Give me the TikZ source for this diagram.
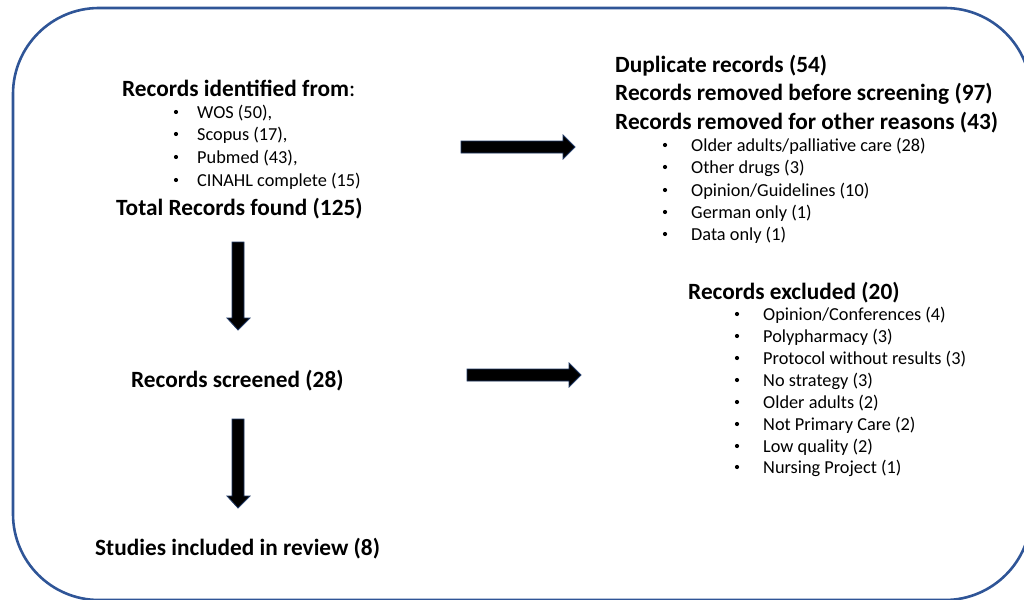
\documentclass[tikz,border=0pt]{standalone}
\usepackage{fontspec}
\setmainfont{Carlito}
\definecolor{frameblue}{HTML}{2F5597}
\definecolor{arrowedge}{HTML}{203864}
\begin{document}
\begin{tikzpicture}[x=1pt,y=-1pt,
  head/.style={anchor=base west,inner sep=0pt,font=\fontsize{23.3}{26}\selectfont\bfseries},
  item/.style={anchor=base west,inner sep=0pt,font=\fontsize{18.3}{21}\selectfont},
  dot/.style={circle,fill=black,inner sep=0pt,minimum size=4.2pt},
  blockarrow/.style={fill=black,draw=arrowedge,line width=0.8pt,line join=miter},
  frame/.style={draw=frameblue,line width=2.6pt,rounded corners=86pt}]
\useasboundingbox (0,0) rectangle (1024,599);
\draw[frame] (13,8) rectangle (1031,600);

% left column
\node[head] (idf) at (122,96) {Records identified from\textmd{:}};
\foreach \t/\y [count=\i] in {{WOS (50),}/118, {Scopus (17),}/140, {Pubmed (43),}/163, {CINAHL complete (15)}/186}{
  \node[dot] (lb\i) at (176,\y-6) {};
  \node[item] (lt\i) at (197,\y) {\t};
}
\node[head] (total) at (116,215) {Total Records found (125)};
\node[head] (screen) at (131,387) {Records screened (28)};
\node[head] (incl) at (95,555) {Studies included in review (8)};

% right top
\node[head] (dup) at (615,73) {Duplicate records (54)};
\node[head] (rem) at (615,101) {Records removed before screening (97)};
\node[head] (oth) at (615,129) {Records removed for other reasons (43)};
\foreach \t/\y [count=\i] in {{Older adults/palliative care (28)}/151, {Other drugs (3)}/173, {Opinion/Guidelines (10)}/196, {German only (1)}/218, {Data only (1)}/240}{
  \node[dot] (ob\i) at (665,\y-6) {};
  \node[item] (ot\i) at (691,\y) {\t};
}

% right bottom
\node[head] (excl) at (688,299) {Records excluded (20)};
\foreach \t/\y [count=\i] in {{Opinion/Conferences (4)}/320, {Polypharmacy (3)}/342, {Protocol without results (3)}/364, {No strategy (3)}/386, {Older adults (2)}/408, {Not Primary Care (2)}/430, {Low quality (2)}/452, {Nursing Project (1)}/473}{
  \node[dot] (eb\i) at (737,\y-6) {};
  \node[item] (et\i) at (763,\y) {\t};
}

% block arrows
\draw[blockarrow] (461,141) -- (563,141) -- (563,135) -- (575,147) -- (563,159) -- (563,153) -- (461,153) -- cycle;
\draw[blockarrow] (467,369) -- (569,369) -- (569,363) -- (581,375) -- (569,387) -- (569,381) -- (467,381) -- cycle;
\draw[blockarrow] (232,242) -- (232,318) -- (227,318) -- (238,330) -- (250,318) -- (244,318) -- (244,242) -- cycle;
\draw[blockarrow] (232,419) -- (232,496) -- (227,496) -- (238,508) -- (250,496) -- (244,496) -- (244,419) -- cycle;
\end{tikzpicture}
\end{document}
